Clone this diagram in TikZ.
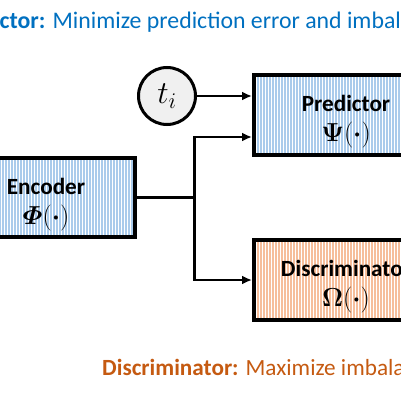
\RequirePackage{fix-cm}
\documentclass[tikz,border=0pt]{standalone}
\usepackage{fontspec}
\setmainfont{Carlito}
\usepackage{amsmath}
\usepackage{bm}
\usetikzlibrary{arrows.meta,patterns.meta,calc}

\definecolor{goalblue}{RGB}{0,112,192}
\definecolor{goalorange}{RGB}{197,90,17}
\definecolor{stripeblue}{RGB}{170,203,235}
\definecolor{stripeorange}{RGB}{246,190,155}
\definecolor{inputgray}{RGB}{240,240,240}

\newcommand{\blocktitle}[1]{\rule{0pt}{30pt}\textbf{#1}}
\newcommand{\mapline}[1]{{\fontsize{26}{30}\selectfont$\bm{#1}(\bm{\cdot})$}}

\begin{document}
\begin{tikzpicture}[
        x=1pt, y=-1pt,
        font=\fontsize{23.2}{30}\selectfont,
        block/.style={draw=black, line width=4pt, align=center, minimum height=80pt, inner sep=2pt},
        blueblock/.style={block, pattern={Lines[angle=90, distance=3pt, line width=1.5pt]}, pattern color=stripeblue},
        orangeblock/.style={block, pattern={Lines[angle=90, distance=3pt, line width=1.5pt]}, pattern color=stripeorange},
        wire/.style={line width=2.7pt},
        feed/.style={wire, -{Latex[length=10pt, width=9pt]}},
    ]
    \useasboundingbox (0,0) rectangle (401,401);
    \clip (0,0) rectangle (401,401);

    %====================== GOALS ======================
    \node[anchor=base west, inner sep=0pt, text=goalblue, font=\fontsize{23.8}{28}\selectfont] (predgoal) at (-52, 29) {\textbf{Predictor:} Minimize prediction error and imbalance};
    \node[anchor=base west, inner sep=0pt, text=goalorange] (discgoal) at (102, 375) {\textbf{Discriminator:} Maximize imbalance};

    %====================== BLOCKS ======================
    \node[blueblock, minimum width=178pt, minimum height=79pt] (enc) at (46, 197.5) {\blocktitle{Encoder}\\\mapline{\varPhi}};
    \node[blueblock, minimum width=184pt] (pred) at (346, 115) {\blocktitle{Predictor}\\\mapline{\Psi}};
    \node[orangeblock, minimum width=184pt] (disc) at (346, 280) {\blocktitle{Discriminator}\\\mapline{\Omega}};

    \node[circle, draw=black, line width=3pt, fill=inputgray, minimum size=57pt, inner sep=0pt, font=\fontsize{32}{36}\selectfont] (ti) at (167, 96) {$t_i$};

    %====================== CONNECTORS ======================
    \coordinate (fork) at ($(enc.east)+(59,0)$);
    \coordinate (predin) at ($(pred.south west)+(0,-20)$);

    \draw[feed] (ti) -- (ti -| pred.west);
    \draw[wire] (enc.east) -- (fork);
    \draw[feed] (fork) |- (predin);
    \draw[feed] (fork) |- (disc.west);

\end{tikzpicture}
\end{document}
